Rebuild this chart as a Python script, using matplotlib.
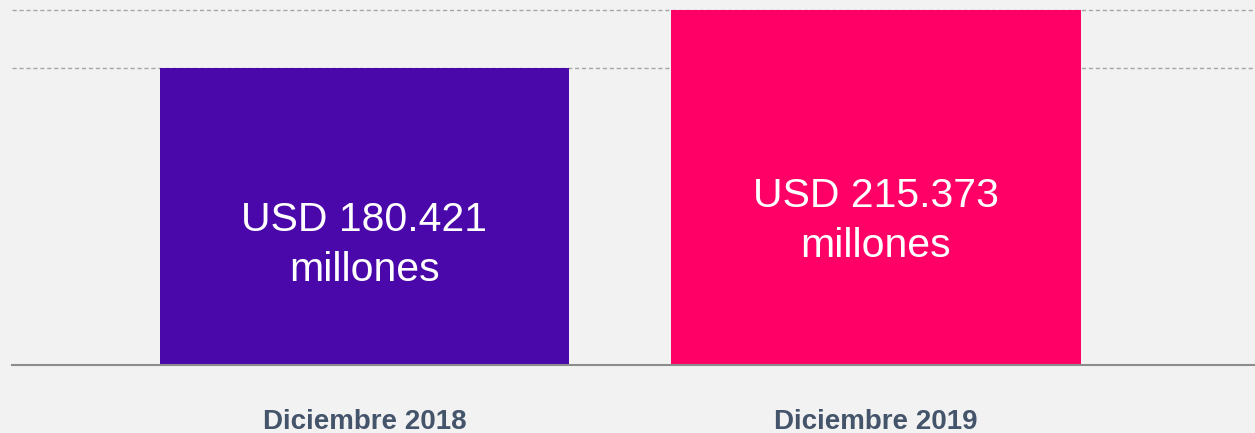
import matplotlib.pyplot as plt

# data
categories = ['Diciembre 2018', 'Diciembre 2019']
values = [180.421, 215.373]
value_labels = ['USD 180.421\nmillones', 'USD 215.373\nmillones']
bar_colors = ['#4a08aa', '#ff0066']

W, H = 1255, 433
fig = plt.figure(figsize=(W / 100, H / 100), dpi=100)
fig.patch.set_facecolor('#f2f2f2')

# axes placed to match the reference baseline and bar positions
ax = fig.add_axes([12 / W, (H - 365) / H, (W - 12) / W, 365 / H])
ax.set_facecolor('#f2f2f2')

x = list(range(len(categories)))
ax.bar(x, values, width=0.8, color=bar_colors, zorder=3)

for xi, v, lab in zip(x, values, value_labels):
    ax.text(xi, v * 0.405, lab, ha='center', va='center', color='white',
            fontsize=29.5, family='Liberation Sans', linespacing=1.4, zorder=4)

# dashed reference lines at the bar tops
ax.set_yticks(values)
ax.yaxis.grid(True, linestyle=(0, (3, 2)), color='#a6a6a6', linewidth=1, zorder=1)
ax.tick_params(axis='y', length=0, labelleft=False)

ax.set_xlim(-0.689, 1.741)
ax.set_ylim(0, 180.421 * 365 / 297)

for s in ['top', 'right', 'left']:
    ax.spines[s].set_visible(False)
ax.spines['bottom'].set_color('#8c8c8c')
ax.spines['bottom'].set_linewidth(1.5)
ax.spines['bottom'].set_zorder(5)

ax.set_xticks(x)
ax.set_xticklabels(categories, fontsize=20, fontweight='bold',
                   family='Liberation Sans', color='#44546a')
ax.tick_params(axis='x', length=0, pad=32)

fig.savefig('out.png', dpi=100, facecolor=fig.get_facecolor())
